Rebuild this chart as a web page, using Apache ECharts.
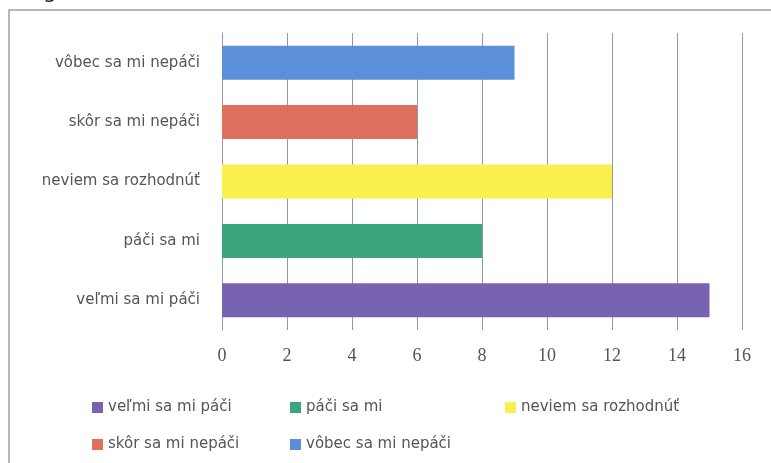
<!DOCTYPE html>
<html>
<head>
<meta charset="utf-8">
<script src="https://cdn.jsdelivr.net/npm/echarts@6/dist/echarts.min.js"></script>
<style>html,body{margin:0;padding:0;background:#fff}#c{width:771px;height:463px}</style>
</head>
<body>
<div id="c"></div>
<script>
// categories from bottom to top
var categories = ['veľmi sa mi páči', 'páči sa mi', 'neviem sa rozhodnúť', 'skôr sa mi nepáči', 'vôbec sa mi nepáči'];
var values = [15, 8, 12, 6, 9];
var colors = ['#7862b2', '#3ba67b', '#f9ef4f', '#e0705e', '#5b8fd9'];
var xTicks = [0, 2, 4, 6, 8, 10, 12, 14, 16];

var series = categories.map(function (name, i) {
  var d = categories.map(function (c, j) { return j === i ? values[i] : '-'; });
  return {
    name: name, type: 'bar', stack: 'all', data: d, barWidth: 34,
    itemStyle: { color: colors[i] }
  };
});

var legendBase = {
  orient: 'vertical', icon: 'rect', itemWidth: 11, itemHeight: 11, itemGap: 22,
  top: 395, textStyle: { fontFamily: 'DejaVu Sans', fontSize: 15, color: '#555' },
  selectedMode: false
};
function lg(left, names) {
  return Object.assign({}, legendBase, { left: left, data: names });
}

var chart = echarts.init(document.getElementById('c'));
chart.setOption({
  animation: false,
  graphic: [
    { type: 'rect', shape: { x: 9, y: 10, width: 800, height: 500 }, style: { fill: 'none', stroke: '#a0a0a0', lineWidth: 1.5 } },
    { type: 'text', left: 43, top: -19, style: { text: 'g', fontSize: 22, fill: '#222', fontFamily: 'DejaVu Sans' } }
  ],
  grid: { left: 222, right: 29, top: 33, bottom: 133 },
  xAxis: {
    type: 'value', min: xTicks[0], max: xTicks[xTicks.length - 1], interval: 2,
    axisLine: { show: false }, axisTick: { show: false },
    splitLine: { show: true, lineStyle: { color: '#9098a4', width: 1 } },
    axisLabel: { margin: 17, fontFamily: 'Liberation Serif', fontSize: 18, color: '#555' }
  },
  yAxis: {
    type: 'category', data: categories,
    axisLine: { show: true, lineStyle: { color: '#9098a4', width: 1 } },
    axisTick: { show: false },
    axisLabel: { margin: 22, fontFamily: 'DejaVu Sans', fontSize: 15, color: '#555' }
  },
  legend: [
    lg(87, [categories[0], categories[3]]),
    lg(285, [categories[1], categories[4]]),
    lg(500, [categories[2]])
  ],
  series: series
});
</script>
</body>
</html>
